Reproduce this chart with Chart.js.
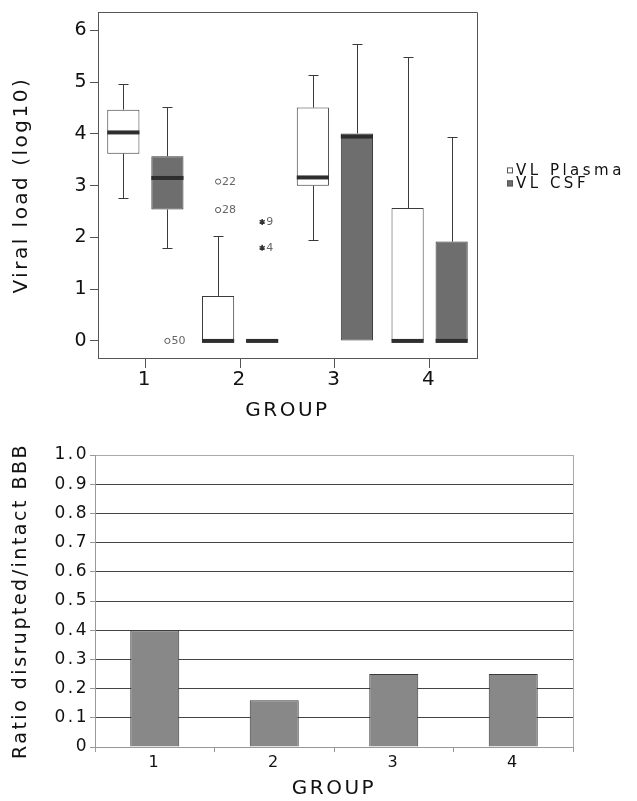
<!DOCTYPE html>
<html>
<head>
<meta charset="utf-8">
<script src="https://cdn.jsdelivr.net/npm/chart.js@4.4.0/dist/chart.umd.min.js"></script>
<style>
body { margin: 0; background: #fff; }
canvas { display: block; }
</style>
</head>
<body>
<canvas id="boxes" width="637" height="430"></canvas>
<canvas id="ratio" width="637" height="371"></canvas>
<script>
var groups = ['1', '2', '3', '4'];

// viral load (log10), box plot stats per group
var plasmaMin = [2.77, 0, 1.95, 0];
var plasmaQ1 = [3.62, 0, 3.00, 0];
var plasmaMedian = [4.03, 0, 3.16, 0];
var plasmaQ3 = [4.47, 0.87, 4.51, 2.57];
var plasmaMax = [4.97, 2.03, 5.14, 5.49];

var csfMin = [1.79, 0, 0, 0];
var csfQ1 = [2.54, 0, 0, 0];
var csfMedian = [3.15, 0, 3.95, 0];
var csfQ3 = [3.57, 0, 4.01, 1.92];
var csfMax = [4.52, 0, 5.73, 3.94];

// outliers (o) and extremes (*); series 0 = plasma, 1 = CSF
var outlierGroup = [0, 1, 1, 1, 1];
var outlierSeries = [1, 0, 0, 1, 1];
var outlierValue = [0, 3.08, 2.53, 2.30, 1.80];
var outlierLabel = ['50', '22', '28', '9', '4'];
var outlierKind = ['o', 'o', 'o', '*', '*'];

var viralTicks = [0, 1, 2, 3, 4, 5, 6];

// ratio disrupted / intact BBB
var ratioValues = [0.40, 0.16, 0.25, 0.25];
var ratioTicks = [0, 0.1, 0.2, 0.3, 0.4, 0.5, 0.6, 0.7, 0.8, 0.9, 1.0];

Chart.defaults.font.family = '"DejaVu Sans", Verdana, sans-serif';
Chart.defaults.color = '#111';

var spacing = {
    id: 'spacing',
    beforeUpdate: function (chart) { chart.ctx.letterSpacing = '2.5px'; },
    beforeDraw: function (chart) { chart.ctx.letterSpacing = '2.5px'; }
};

var frame = {
    id: 'frame',
    afterDraw: function (chart, args, opts) {
        var a = chart.chartArea, ctx = chart.ctx;
        ctx.save();
        ctx.strokeStyle = opts.color;
        ctx.lineWidth = 1;
        ctx.beginPath();
        if (opts.full) {
            ctx.rect(Math.round(a.left) + 0.5, Math.round(a.top) + 0.5,
                Math.round(a.right - a.left), Math.round(a.bottom - a.top));
        } else {
            ctx.moveTo(Math.round(a.right) + 0.5, a.top);
            ctx.lineTo(Math.round(a.right) + 0.5, a.bottom);
        }
        ctx.stroke();
        ctx.restore();
    }
};

var boxExtras = {
    id: 'boxExtras',
    afterDatasetsDraw: function (chart) {
        var ctx = chart.ctx, y = chart.scales.y;
        var stats = [
            { min: plasmaMin, q1: plasmaQ1, med: plasmaMedian, q3: plasmaQ3, max: plasmaMax },
            { min: csfMin, q1: csfQ1, med: csfMedian, q3: csfQ3, max: csfMax }
        ];
        ctx.save();
        stats.forEach(function (s, i) {
            var meta = chart.getDatasetMeta(i);
            meta.data.forEach(function (bar, j) {
                var x = Math.round(bar.x) + 0.5, half = bar.width / 2;
                ctx.strokeStyle = '#3a3a3a';
                ctx.lineWidth = 1;
                ctx.beginPath();
                if (s.max[j] > s.q3[j]) {
                    var top = Math.round(y.getPixelForValue(s.max[j])) + 0.5;
                    ctx.moveTo(x, y.getPixelForValue(s.q3[j]));
                    ctx.lineTo(x, top);
                    ctx.moveTo(x - 5, top);
                    ctx.lineTo(x + 5, top);
                }
                if (s.min[j] < s.q1[j]) {
                    var bot = Math.round(y.getPixelForValue(s.min[j])) + 0.5;
                    ctx.moveTo(x, y.getPixelForValue(s.q1[j]));
                    ctx.lineTo(x, bot);
                    ctx.moveTo(x - 5, bot);
                    ctx.lineTo(x + 5, bot);
                }
                ctx.stroke();
                var my = y.getPixelForValue(s.med[j]);
                ctx.fillStyle = '#2e2e2e';
                ctx.fillRect(bar.x - half, my - 2, half * 2, 4);
            });
        });

        ctx.letterSpacing = '0px';
        ctx.font = '11px "DejaVu Sans"';
        ctx.textBaseline = 'middle';
        outlierValue.forEach(function (v, k) {
            var bar = chart.getDatasetMeta(outlierSeries[k]).data[outlierGroup[k]];
            var x = bar.x, py = y.getPixelForValue(v);
            if (outlierKind[k] === 'o') {
                ctx.strokeStyle = '#555';
                ctx.lineWidth = 1;
                ctx.beginPath();
                ctx.arc(x, py, 2.6, 0, Math.PI * 2);
                ctx.stroke();
            } else {
                ctx.strokeStyle = '#333';
                ctx.lineWidth = 1.5;
                ctx.beginPath();
                for (var a = 0; a < 3; a++) {
                    var ang = a * Math.PI / 3 + Math.PI / 2;
                    ctx.moveTo(x - 3 * Math.cos(ang), py - 3 * Math.sin(ang));
                    ctx.lineTo(x + 3 * Math.cos(ang), py + 3 * Math.sin(ang));
                }
                ctx.stroke();
            }
            ctx.fillStyle = '#666';
            ctx.fillText(outlierLabel[k], x + 4, py + 0.5);
        });
        ctx.restore();
    }
};

var sideLegend = {
    id: 'sideLegend',
    afterDraw: function (chart) {
        var ctx = chart.ctx, a = chart.chartArea;
        ctx.save();
        ctx.letterSpacing = '3.5px';
        ctx.font = '15px "DejaVu Sans"';
        ctx.textBaseline = 'middle';
        chart.data.datasets.forEach(function (ds, i) {
            var x = a.right + 30, yy = a.top + 158 + i * 13;
            ctx.fillStyle = ds.backgroundColor;
            ctx.fillRect(x, yy - 3, 6, 6);
            ctx.strokeStyle = '#555';
            ctx.lineWidth = 1;
            ctx.strokeRect(x + 0.5, yy - 2.5, 5, 5);
            ctx.fillStyle = '#111';
            ctx.fillText(ds.label, x + 9, yy + 1);
        });
        ctx.restore();
    }
};

function pairs(lo, hi) {
    return lo.map(function (v, j) { return [v, hi[j]]; });
}

new Chart(document.getElementById('boxes'), {
    type: 'bar',
    data: {
        labels: groups,
        datasets: [{
            label: 'VL Plasma',
            data: pairs(plasmaQ1, plasmaQ3),
            backgroundColor: '#ffffff',
            borderColor: '#3a3a3a',
            borderWidth: 1,
            borderSkipped: false
        }, {
            label: 'VL CSF',
            data: pairs(csfQ1, csfQ3),
            backgroundColor: '#6e6e6e',
            borderColor: '#3a3a3a',
            borderWidth: 1,
            borderSkipped: false
        }]
    },
    options: {
        responsive: false,
        animation: false,
        categoryPercentage: 0.93,
        barPercentage: 0.73,
        layout: { padding: { top: 12, right: 160, left: 0, bottom: 0 } },
        plugins: {
            legend: { display: false },
            tooltip: { enabled: false },
            frame: { color: '#555', full: true }
        },
        scales: {
            x: {
                grid: { offset: false, drawOnChartArea: false, tickLength: 10, color: '#555' },
                border: { color: '#555' },
                ticks: { font: { size: 20 }, padding: 0 },
                title: { display: true, text: 'GROUP', font: { size: 20 }, padding: { bottom: 7 } },
                afterFit: function (s) { s.height = 72; }
            },
            y: {
                min: -0.33,
                max: 6.35,
                afterBuildTicks: function (axis) {
                    axis.ticks = viralTicks.map(function (v) { return { value: v }; });
                },
                grid: { drawOnChartArea: false, tickLength: 8, color: '#555' },
                border: { color: '#555' },
                ticks: { font: { size: 19 }, padding: 1 },
                title: { display: true, text: 'Viral load (log10)', font: { size: 20 }, padding: { top: 10 } },
                afterFit: function (s) { s.width = 98; }
            }
        }
    },
    plugins: [spacing, frame, boxExtras, sideLegend]
});

new Chart(document.getElementById('ratio'), {
    type: 'bar',
    data: {
        labels: groups,
        datasets: [{
            label: 'Ratio',
            data: ratioValues,
            backgroundColor: '#888888',
            borderColor: '#3a3a3a',
            borderWidth: 1,
            barPercentage: 0.41,
            categoryPercentage: 1
        }]
    },
    options: {
        responsive: false,
        animation: false,
        layout: { padding: { top: 25, right: 64, left: 0, bottom: 0 } },
        plugins: {
            legend: { display: false },
            tooltip: { enabled: false },
            frame: { color: '#aaa', full: false }
        },
        scales: {
            x: {
                grid: { offset: true, drawOnChartArea: false, tickLength: 5, color: '#999' },
                border: { color: '#999' },
                ticks: { font: { size: 16 }, padding: 1 },
                title: { display: true, text: 'GROUP', font: { size: 20 }, padding: 0 },
                afterFit: function (s) { s.height = 54; }
            },
            y: {
                min: 0,
                max: 1,
                afterBuildTicks: function (axis) {
                    axis.ticks = ratioTicks.map(function (v) { return { value: v }; });
                },
                grid: {
                    color: function (c) {
                        var v = c.tick ? c.tick.value : null;
                        return (v === 1 || v === 0) ? '#aaa' : '#444';
                    },
                    tickColor: '#999',
                    tickLength: 5
                },
                border: { color: '#999' },
                ticks: {
                    font: { size: 17 },
                    padding: 1,
                    callback: function (v) { return v === 0 ? '0' : v.toFixed(1); }
                },
                title: { display: true, text: 'Ratio disrupted/intact BBB', font: { size: 19 }, padding: { top: 10 } },
                afterFit: function (s) { s.width = 95; }
            }
        }
    },
    plugins: [spacing, frame]
});
</script>
</body>
</html>
